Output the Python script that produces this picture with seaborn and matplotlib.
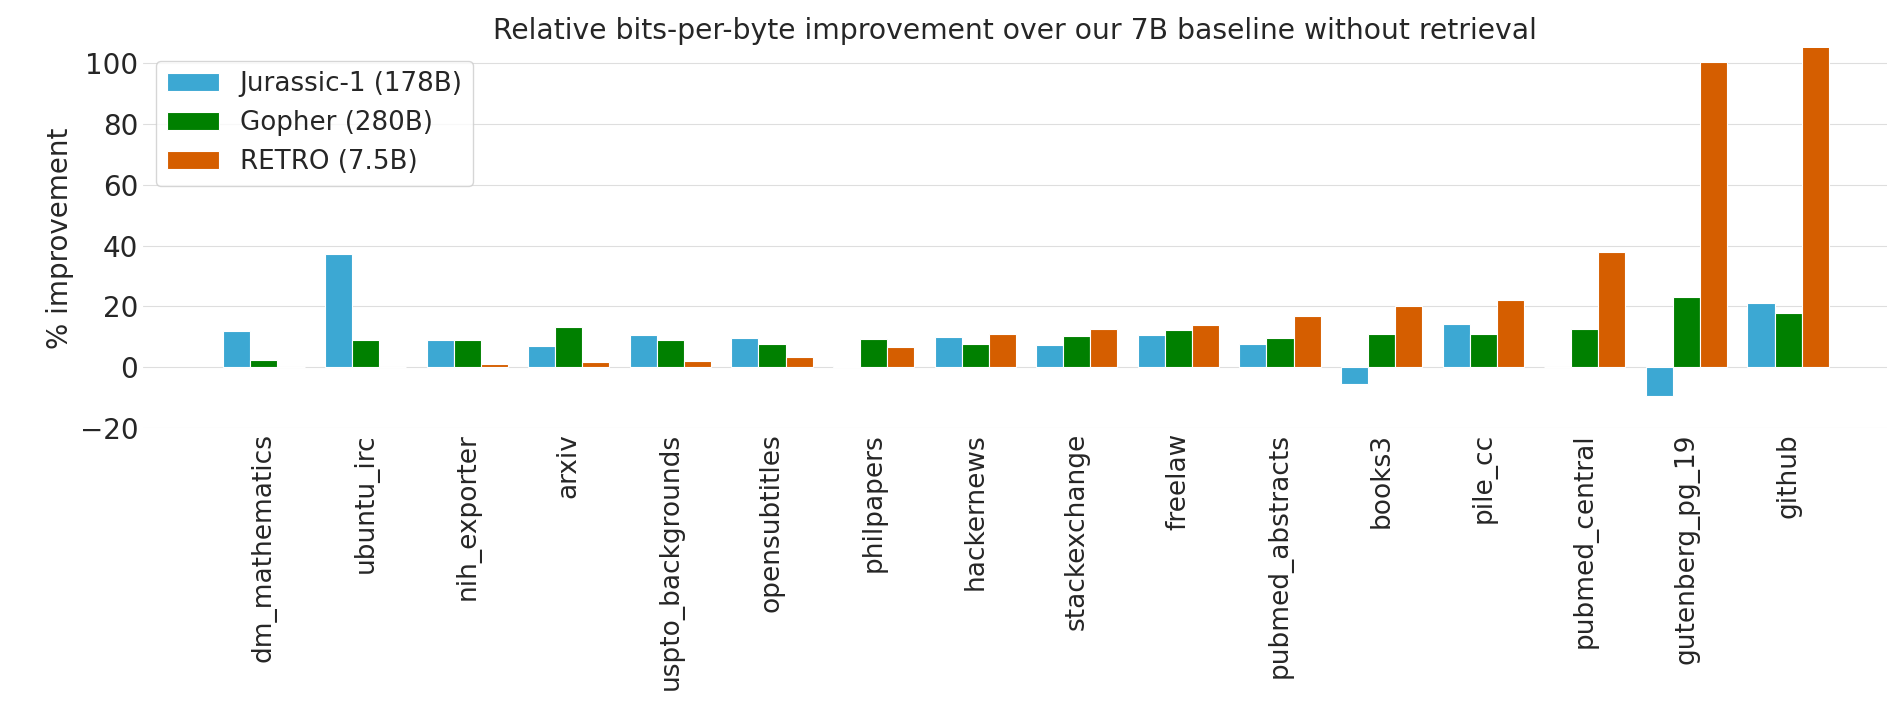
import pandas as pd
import matplotlib
matplotlib.use("Agg")
import matplotlib.pyplot as plt
import seaborn as sns

# Data
datasets = ['dm_mathematics', 'ubuntu_irc', 'nih_exporter', 'arxiv', 'uspto_backgrounds',
            'opensubtitles', 'philpapers', 'hackernews', 'stackexchange', 'freelaw',
            'pubmed_abstracts', 'books3', 'pile_cc', 'pubmed_central', 'gutenberg_pg_19', 'github']
jurassic = [11.8, 37.4, 9.0, 6.9, 10.6, 9.5, 0.5, 10.0, 7.4, 10.7, 7.8, -5.6, 14.2, 0.0, -9.5, 21.1]
gopher = [2.3, 9.0, 9.0, 13.3, 9.0, 7.6, 9.2, 7.6, 10.3, 12.3, 9.6, 11.1, 11.1, 12.7, 23.0, 18.0]
retro = [0.0, 0.0, 1.2, 1.9, 2.0, 3.5, 6.7, 11.1, 12.7, 14.0, 16.9, 20.2, 22.0, 37.8, 100.3, 105.5]
models = ['Jurassic-1 (178B)', 'Gopher (280B)', 'RETRO (7.5B)']
colors = ['#3ca8d3', '#008000', '#d55e00']

df = pd.DataFrame({'dataset': datasets, models[0]: jurassic, models[1]: gopher, models[2]: retro})
df_long = df.melt(id_vars='dataset', var_name='model', value_name='improvement')

sns.set_style("whitegrid", {'grid.color': '#dedede'})
plt.rcParams['font.family'] = ['DejaVu Sans']

fig = plt.figure(figsize=(18.87, 7.02), dpi=100)
ax = fig.add_axes([0.0758, 0.39, 0.924, 0.542])
sns.barplot(data=df_long, x='dataset', y='improvement', hue='model', order=datasets,
            hue_order=models, palette=colors, saturation=1, edgecolor='white',
            linewidth=0.8, ax=ax)

ax.set_title('Relative bits-per-byte improvement over our 7B baseline without retrieval',
             fontsize=20.3, color='#262626', pad=6)
ax.set_xlabel('')
ax.set_ylabel('% improvement', fontsize=20, color='#262626')
ax.set_ylim(-20, 105)
ax.set_xlim(-1.19, 15.97)
ax.set_yticks([-20, 0, 20, 40, 60, 80, 100])
ax.tick_params(axis='y', labelsize=20, colors='#262626', length=0)
ax.tick_params(axis='x', labelsize=19, colors='#262626', length=0, rotation=90)
ax.xaxis.grid(False)
sns.despine(ax=ax, left=True, bottom=True)
ax.legend(loc='upper left', fontsize=18.8, frameon=True)

fig.savefig('out.png', dpi=100)
